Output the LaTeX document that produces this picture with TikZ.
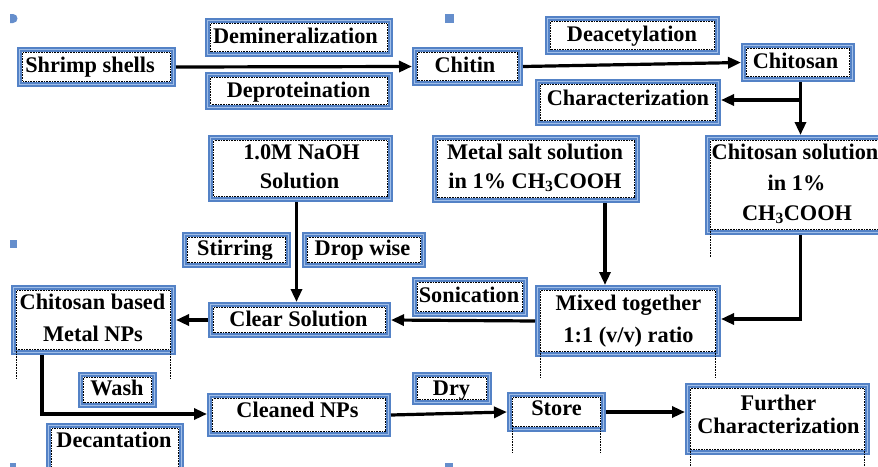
\documentclass[tikz,border=0pt]{standalone}
\usepackage{fontspec}
\setmainfont{Liberation Serif}
\usetikzlibrary{arrows.meta,calc}
\definecolor{bdark}{RGB}{84,130,198}
\definecolor{blight}{RGB}{160,190,232}
\tikzset{
  wbox/.style={rectangle, draw=bdark, line width=1.7pt, double=blight, double distance=1.4pt, fill=white, outer sep=2.4pt, inner sep=0pt},
  dotb/.style={draw=black, line width=0.7pt, dash pattern=on 0.8pt off 0.8pt},
  txt/.style={font=\fontsize{22.3}{26}\selectfont\bfseries, inner sep=0pt, anchor=base},
  arr/.style={line width=3.2pt, -{Triangle[length=13pt,width=11pt]}},
  ln/.style={line width=3.2pt},
  bmark/.style={fill=bdark!90}
}
\newcommand{\bx}[5]{%
  \node[wbox, minimum width={(#4)*1pt-(#2)*1pt-4.8pt}, minimum height={(#5)*1pt-(#3)*1pt-4.8pt}] (#1) at ({(#2+#4)/2},{(#3+#5)/2}) {};
  \draw[dotb] ($(#1.north west)+(5.8,5.8)$) rectangle ($(#1.south east)+(-5.8,-5.8)$);
}
\begin{document}
\begin{tikzpicture}[x=1pt,y=-1pt]
\clip (0,0) rectangle (878,466);
\fill[white] (0,0) rectangle (878,466);
% boxes
\bx{shrimp}{17}{47}{176}{87}
\bx{demin}{205}{18}{393}{57}
\bx{deprot}{205}{72}{393}{110}
\bx{chitin}{412}{47}{523}{86}
\bx{deacet}{545}{16}{720}{55}
\bx{chitosan}{741}{43}{855}{82}
\bx{charac}{535}{79}{721}{126}
\bx{metal}{432}{135}{640}{203}
\bx{chsol}{705}{135}{885}{235}
\bx{naoh}{208}{135}{393}{202}
\bx{stir}{182}{232}{291}{268}
\bx{drop}{302}{232}{426}{268}
\bx{clear}{208}{302}{391}{338}
\bx{cbased}{11}{285}{176}{355}
\bx{wash}{78}{372}{157}{408}
\bx{decant}{46}{423}{184}{480}
\bx{cleaned}{207}{393}{391}{437}
\bx{sonic}{412}{277}{528}{317}
\bx{mixed}{535}{285}{721}{357}
\bx{dry}{412}{372}{492}{405}
\bx{store}{507}{392}{606}{432}
\bx{further}{685}{383}{870}{455}
% stray dotted stubs
\draw[dotb] ($(cbased.south west)+(5.8,-5.8)$) -- ++(0,29);
\draw[dotb] ($(cbased.south east)+(-5.8,-5.8)$) -- ++(0,29);
\draw[dotb] ($(chsol.south west)+(5.8,-5.8)$) -- ++(0,28);
\draw[dotb] ($(mixed.south west)+(5.8,-5.8)$) -- ++(0,26);
\draw[dotb] ($(mixed.south east)+(-5.8,-5.8)$) -- ++(0,26);
\draw[dotb] ($(store.south west)+(5.8,-5.8)$) -- ++(0,26);
\draw[dotb] ($(store.south east)+(-5.8,-5.8)$) -- ++(0,26);
\draw[dotb] ($(further.south west)+(5.8,-5.8)$) -- ++(0,20);
\draw[dotb] ($(further.south east)+(-5.8,-5.8)$) -- ++(0,20);
% small blue marks
\fill[bmark] (10,14) -- (13,14) arc[start angle=-90,end angle=90,radius=4.5] -- (10,23) -- cycle;
\fill[bmark] (445,14) rectangle (454,23);
\fill[bmark] (10,240) rectangle (17,248);
\fill[bmark] (10,463) rectangle (16,470);
\fill[bmark] (445,463) rectangle (453,470);
% texts
\node[txt] (t1) at (90,72) {Shrimp shells};
\node[txt] (t2) at (295.5,43) {Demineralization};
\node[txt] (t3) at (298.5,97) {Deproteination};
\node[txt] (t4) at (465,72) {Chitin};
\node[txt] (t5) at (632,41) {Deacetylation};
\node[txt] (t6) at (795.5,68) {Chitosan};
\node[txt] (t7) at (628,105) {Characterization};
\node[txt] (t8a) at (535,159.5) {Metal salt solution};
\node[txt] (t8b) at (535,188.5) {in 1\% CH\textsubscript{3}COOH};
\node[txt] (t9a) at (795,159) {Chitosan solution};
\node[txt] (t9b) at (796.5,190) {in 1\%};
\node[txt] (t9c) at (797,220) {CH\textsubscript{3}COOH};
\node[txt] (t10a) at (301.5,159) {1.0M NaOH};
\node[txt] (t10b) at (299.5,188) {Solution};
\node[txt] (t11) at (235,255) {Stirring};
\node[txt] (t12) at (362.5,255) {Drop wise};
\node[txt] (t13) at (298.5,326) {Clear Solution};
\node[txt] (t14a) at (92.5,309) {Chitosan based};
\node[txt] (t14b) at (93,341) {Metal NPs};
\node[txt] (t15) at (117,395) {Wash};
\node[txt] (t16) at (114,447) {Decantation};
\node[txt] (t17) at (297.5,417) {Cleaned NPs};
\node[txt] (t18) at (469,302) {Sonication};
\node[txt] (t19a) at (628.5,310) {Mixed together};
\node[txt] (t19b) at (628.5,342) {1:1 (v/v) ratio};
\node[txt] (t20) at (451.5,395) {Dry};
\node[txt] (t21) at (556.5,415) {Store};
\node[txt] (t22a) at (778.5,410) {Further};
\node[txt] (t22b) at (778.5,433) {Characterization};
% connectors
\draw[arr] (shrimp.east) -- (chitin.west);
\draw[arr] (chitin.east) -- (chitosan.west);
\coordinate (cs) at ($(chitosan.south)+(2.5,0)$);
\draw[arr] (cs) -- (cs |- chsol.north);
\draw[arr] (cs |- 0,100) -- (charac.east |- 0,100);
\draw[arr] ($(naoh.south)+(-4,0)$) coordinate (nb) -- (nb |- clear.north);
\draw[arr] ($(metal.south)+(69,0)$) coordinate (mb) -- (mb |- mixed.north);
\draw[ln] (cs |- chsol.south) -- (cs |- 0,319) coordinate (cturn);
\draw[arr] ($(cturn)+(1.6,0)$) -- (mixed.east |- cturn);
\draw[arr] (mixed.west) -- (clear.east);
\draw[arr] (clear.west) -- (cbased.east);
\coordinate (cb) at ($(cbased.south west)+(31,0)$);
\draw[ln] (cb) -- (cb |- 0,414) coordinate (cbturn);
\draw[arr] ($(cbturn)+(-1.6,0)$) -- (cleaned.west |- cbturn);
\draw[arr] (cleaned.east) -- (store.west);
\draw[arr] (store.east) -- (store.east -| further.west);
\end{tikzpicture}
\end{document}
